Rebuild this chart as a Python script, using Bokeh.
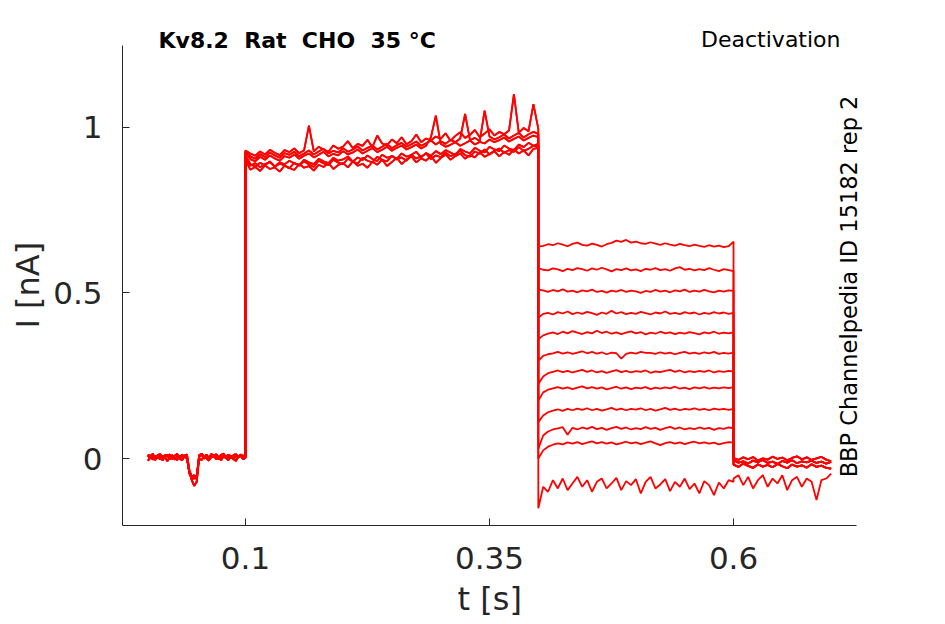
import numpy as np
from bokeh.plotting import figure
from bokeh.models import Label, FixedTicker, Range1d, Title
from bokeh.embed import file_html
from bokeh.resources import INLINE

# ---------------- data ----------------
# time segments [s]
seg_base = (0.0, 0.1)
seg_act = (0.1, 0.4)
seg_tail = (0.4, 0.6)
seg_post = (0.6, 0.7)

# baseline (0 - 0.1 s), three sweep variants [nA]
base_1 = [0.004,0.010,-0.003,0.008,0.001,0.011,-0.005,0.006,0.012,-0.002,0.007,0.003,-0.004,0.009,0.002,0.010,0.004,
          -0.045,-0.058,-0.060,-0.052,0.006,
          0.012,0.000,0.008,-0.003,0.009,0.004,0.011,-0.002,0.007,0.010,0.001,0.006,0.009,-0.003,0.008,0.005,0.011,0.002,0.006]
base_2 = [-0.006,0.002,0.009,-0.004,0.006,-0.002,0.008,0.003,-0.007,0.005,0.010,-0.003,0.006,0.001,-0.005,0.007,0.000,
          -0.040,-0.065,-0.082,-0.070,0.002,
          -0.004,0.007,0.001,-0.006,0.005,0.009,-0.002,0.004,-0.005,0.008,0.002,-0.004,0.006,0.001,-0.007,0.004,0.009,-0.002,0.003]
base_3 = [0.012,0.005,0.015,0.000,0.010,0.014,0.003,0.011,0.006,0.013,-0.001,0.009,0.014,0.004,0.011,0.007,0.013,
          -0.035,-0.055,-0.050,-0.062,0.010,
          0.015,0.006,0.012,0.002,0.014,0.008,0.013,0.004,0.011,0.015,0.005,0.012,0.003,0.010,0.014,0.006,0.012,0.008,0.010]

# activation step (0.1 - 0.4 s), six sweep variants [nA]
act_1 = [0.900,0.872,0.880,0.868,0.885,0.874,0.879,0.866,0.884,0.877,
         0.871,0.889,0.878,0.883,0.869,0.887,0.880,0.893,0.874,0.886,
         0.892,0.879,0.897,0.884,0.890,0.878,0.896,0.887,0.902,0.883,
         0.895,0.908,0.889,0.903,0.912,0.894,0.906,0.899,0.914,0.893,
         0.907,0.918,0.902,0.913,0.921,0.905,0.916,0.909,0.925,0.911,
         0.919,0.928,0.912,0.926,0.917,0.933,0.921,0.930,0.915,0.935,
         0.938]
act_2 = [0.915,0.889,0.881,0.893,0.885,0.897,0.882,0.894,0.888,0.899,
         0.891,0.886,0.902,0.894,0.889,0.905,0.897,0.892,0.908,0.899,
         0.903,0.912,0.896,0.909,0.901,0.915,0.904,0.898,0.917,0.908,
         0.913,0.905,0.921,0.911,0.917,0.926,0.909,0.922,0.914,0.928,
         0.919,0.931,0.924,0.916,0.934,0.927,0.921,0.938,0.929,0.924,
         0.941,0.933,0.928,0.945,0.936,0.931,0.948,0.940,0.953,0.944,
         0.950]
act_3 = [0.925,0.904,0.897,0.911,0.902,0.915,0.906,0.899,0.913,0.908,
         0.918,0.905,0.914,0.921,0.909,0.917,0.926,0.912,0.920,0.915,
         0.928,0.918,0.924,0.933,0.921,0.929,0.937,0.925,0.932,0.941,
         0.929,0.938,0.945,0.933,0.940,0.948,0.936,0.944,0.970,1.035,
         0.950,0.941,0.947,0.955,0.944,0.952,0.960,0.948,0.956,0.951,
         0.963,0.955,0.961,0.969,0.957,0.965,0.972,0.960,0.968,0.975,
         0.970]
act_4 = [0.930,0.921,0.914,0.927,0.918,0.932,0.923,0.916,0.931,0.925,
         0.936,0.922,0.930,1.005,0.927,0.941,0.933,0.926,0.945,0.935,
         0.942,0.958,0.937,0.950,0.944,0.962,0.940,0.975,0.951,0.946,
         0.963,0.952,0.970,0.949,0.958,0.978,0.955,0.966,0.960,0.972,
         0.965,0.982,0.959,0.974,0.985,0.968,0.977,0.992,0.970,0.981,
         0.994,0.975,0.986,0.979,0.990,1.100,0.983,0.998,0.988,1.070,
         0.995]
act_5 = [0.908,0.884,0.892,0.879,0.889,0.895,0.881,0.890,0.885,0.876,
         0.893,0.884,0.897,0.888,0.880,0.899,0.891,0.886,0.902,0.893,
         0.889,0.905,0.896,0.891,0.908,0.899,0.894,0.911,0.902,0.897,
         0.914,0.903,0.909,0.899,0.917,0.906,0.912,0.921,0.904,0.915,
         0.910,0.924,0.913,0.919,0.929,0.916,0.911,0.927,0.920,0.933,
         0.918,0.929,0.936,0.923,0.931,0.926,0.940,0.929,0.935,0.944,
         0.942]
act_6 = [0.928,0.912,0.905,0.919,0.910,0.924,0.915,0.908,0.922,0.917,
         0.926,0.913,0.921,0.930,0.918,0.927,0.935,0.921,0.929,0.924,
         0.937,0.926,0.933,0.942,0.930,0.938,0.945,0.933,0.941,0.950,
         0.937,0.946,0.953,0.941,0.949,0.957,0.944,0.952,0.960,0.948,
         0.958,0.950,0.962,0.955,0.966,1.040,0.961,0.968,0.958,1.050,
         0.972,0.963,0.970,0.978,0.966,0.975,0.983,0.969,0.979,0.986,
         0.980]

# tail currents (0.4 - 0.6 s), one per sweep [nA]
tail_01 = [0.640,0.642,0.647,0.644,0.650,0.646,0.641,0.648,0.652,0.645,0.643,0.649,0.645,0.640,0.647,0.651,0.658,0.654,0.660,0.652,
           0.655,0.650,0.648,0.653,0.649,0.645,0.650,0.646,0.643,0.648,0.644,0.641,0.646,0.642,0.639,0.644,0.640,0.643,0.638,0.641,0.655]
tail_02 = [0.575,0.570,0.568,0.574,0.571,0.566,0.573,0.569,0.575,0.572,0.567,0.574,0.570,0.576,0.571,0.565,0.572,0.569,0.574,0.568,
           0.571,0.566,0.573,0.570,0.575,0.569,0.572,0.567,0.574,0.578,0.570,0.573,0.568,0.572,0.569,0.575,0.570,0.566,0.572,0.569,0.566]
tail_03 = [0.510,0.508,0.503,0.509,0.505,0.511,0.504,0.507,0.502,0.508,0.505,0.510,0.503,0.506,0.501,0.507,0.504,0.509,0.503,0.507,
           0.505,0.500,0.506,0.503,0.509,0.504,0.507,0.502,0.508,0.505,0.510,0.503,0.507,0.504,0.509,0.505,0.502,0.507,0.504,0.508,0.506]
tail_04 = [0.425,0.437,0.440,0.435,0.442,0.438,0.444,0.436,0.441,0.437,0.443,0.439,0.434,0.441,0.437,0.446,0.438,0.442,0.436,0.440,
           0.437,0.443,0.439,0.435,0.441,0.438,0.444,0.437,0.440,0.436,0.442,0.438,0.441,0.435,0.440,0.437,0.442,0.438,0.441,0.437,0.440]
tail_05 = [0.360,0.372,0.377,0.381,0.376,0.383,0.378,0.385,0.380,0.376,0.382,0.378,0.386,0.379,0.383,0.377,0.381,0.376,0.380,0.384,
           0.378,0.382,0.375,0.380,0.377,0.383,0.378,0.381,0.376,0.380,0.377,0.382,0.379,0.375,0.381,0.378,0.383,0.377,0.380,0.378,0.381]
tail_06 = [0.295,0.310,0.315,0.318,0.322,0.317,0.321,0.316,0.320,0.324,0.318,0.322,0.317,0.321,0.315,0.320,0.318,0.302,0.316,0.320,
           0.317,0.322,0.319,0.319,0.316,0.321,0.317,0.320,0.315,0.319,0.322,0.317,0.320,0.316,0.321,0.318,0.322,0.316,0.319,0.317,0.320]
tail_07 = [0.225,0.248,0.258,0.262,0.266,0.261,0.265,0.260,0.264,0.268,0.262,0.266,0.260,0.264,0.259,0.263,0.267,0.261,0.265,0.260,
           0.264,0.262,0.266,0.259,0.263,0.261,0.265,0.268,0.262,0.266,0.260,0.264,0.261,0.265,0.262,0.266,0.260,0.264,0.262,0.265,0.263]
tail_08 = [0.175,0.200,0.208,0.212,0.216,0.211,0.215,0.210,0.214,0.218,0.212,0.216,0.211,0.215,0.209,0.213,0.217,0.211,0.215,0.210,
           0.214,0.212,0.216,0.210,0.214,0.211,0.215,0.212,0.217,0.211,0.214,0.210,0.215,0.212,0.216,0.211,0.214,0.212,0.215,0.213,0.216]
tail_09 = [0.110,0.130,0.140,0.145,0.149,0.144,0.150,0.146,0.151,0.147,0.152,0.146,0.150,0.145,0.149,0.153,0.147,0.151,0.146,0.150,
           0.148,0.152,0.146,0.150,0.145,0.149,0.153,0.147,0.151,0.146,0.150,0.148,0.152,0.147,0.150,0.146,0.151,0.148,0.150,0.147,0.150]
tail_10 = [0.030,0.070,0.082,0.088,0.091,0.095,0.072,0.093,0.088,0.094,0.090,0.096,0.089,0.093,0.087,0.092,0.096,0.090,0.094,0.088,
           0.092,0.089,0.095,0.090,0.093,0.087,0.092,0.096,0.090,0.094,0.088,0.092,0.089,0.094,0.090,0.093,0.087,0.092,0.090,0.094,0.092]
tail_11 = [0.000,0.025,0.036,0.042,0.046,0.043,0.049,0.045,0.050,0.044,0.048,0.052,0.046,0.050,0.045,0.049,0.043,0.047,0.051,0.046,
           0.049,0.044,0.048,0.052,0.046,0.041,0.047,0.050,0.045,0.049,0.044,0.048,0.051,0.046,0.049,0.045,0.048,0.043,0.047,0.050,0.048]
tail_12 = [-0.150,-0.085,-0.100,-0.065,-0.090,-0.060,-0.095,-0.075,-0.055,-0.085,-0.065,-0.100,-0.070,-0.060,-0.090,-0.075,-0.058,-0.095,-0.068,-0.080,
           -0.062,-0.105,-0.070,-0.055,-0.090,-0.078,-0.062,-0.098,-0.070,-0.085,-0.060,-0.092,-0.075,-0.105,-0.068,-0.080,-0.110,-0.072,-0.090,-0.065,-0.070]

# after the tail pulse (0.6 - 0.7 s) [nA]
post_1 = [-0.005,-0.012,-0.008,-0.015,-0.006,-0.011,-0.004,-0.013,-0.009,-0.016,-0.007,-0.012,-0.005,-0.014,-0.008,-0.011,-0.006,-0.013,-0.009,-0.015,-0.010]
post_2 = [-0.018,-0.025,-0.015,-0.022,-0.028,-0.017,-0.024,-0.019,-0.026,-0.016,-0.023,-0.029,-0.018,-0.024,-0.020,-0.027,-0.017,-0.025,-0.021,-0.028,-0.030]
post_3 = [0.002,-0.004,0.004,-0.002,0.005,-0.006,0.001,-0.003,0.006,-0.001,0.003,-0.005,0.002,0.007,-0.002,0.004,-0.004,0.001,0.005,-0.003,-0.008]
post_low = [-0.060,-0.050,-0.080,-0.055,-0.090,-0.065,-0.050,-0.085,-0.060,-0.075,-0.050,-0.095,-0.065,-0.055,-0.085,-0.060,-0.070,-0.125,-0.065,-0.060,-0.045]

x_ticks = [0.1, 0.35, 0.6]
x_tick_labels = ["0.1", "0.35", "0.6"]
y_ticks = [0, 0.5, 1]
y_tick_labels = ["0", "0.5", "1"]
x_axis_extent = (-0.026, 0.726)
y_axis_extent = (-0.2018, 1.247)

x_label = "t [s]"
y_label = "I [nA]"
# doubled spaces kept visible with a no-break space
title_left = "Kv8.2\u00a0 Rat\u00a0 CHO\u00a0 35 °C"
title_right = "Deactivation"
side_text = "BBP Channelpedia ID 15182 rep 2"

# ---------------- figure ----------------
base_sets = [base_1, base_2, base_3]
act_sets = [act_1, act_2, act_3, act_4, act_5, act_6]
tails = [tail_01, tail_02, tail_03, tail_04, tail_05, tail_06,
         tail_07, tail_08, tail_09, tail_10, tail_11, tail_12]
post_sets = [post_1, post_2, post_3]

# the frame extends above / right of the drawn axes so that the
# annotation texts live inside it (axis lines are bounded)
p = figure(width=945, height=624,
           x_range=Range1d(-0.026, 0.8018), y_range=Range1d(-0.2018, 1.3524),
           output_backend="svg", toolbar_location=None,
           min_border_left=122, min_border_right=15,
           min_border_top=10, min_border_bottom=98)
p.outline_line_color = None
p.xgrid.visible = False
p.ygrid.visible = False
p.background_fill_color = "white"
p.border_fill_color = "white"

def seg_times(seg, vals):
    return np.linspace(seg[0], seg[1], len(vals))

for i, tl in enumerate(tails):
    b = base_sets[i % 3]
    a = act_sets[i % 6]
    po = post_low if i == len(tails) - 1 else post_sets[i % 3]
    t = np.concatenate([seg_times(seg_base, b), seg_times(seg_act, a),
                        seg_times(seg_tail, tl), seg_times(seg_post, po)])
    y = np.concatenate([b, a, tl, po])
    p.line(t, y, line_color="#ff0000", line_width=1.8)

axcol = "#262626"
for ax in (p.xaxis, p.yaxis):
    ax.axis_line_color = axcol
    ax.major_tick_line_color = axcol
    ax.major_tick_in = 7
    ax.major_tick_out = 0
    ax.minor_tick_line_color = None
    ax.major_label_text_font = "DejaVu Sans"
    ax.major_label_text_font_size = "31px"
    ax.major_label_text_color = axcol

p.xaxis.bounds = x_axis_extent
p.yaxis.bounds = y_axis_extent
p.xaxis.ticker = FixedTicker(ticks=x_ticks)
p.xaxis.major_label_overrides = dict(zip(x_ticks, x_tick_labels))
p.yaxis.ticker = FixedTicker(ticks=y_ticks)
p.yaxis.major_label_overrides = dict(zip(y_ticks, y_tick_labels))
p.xaxis.major_label_standoff = 21
p.yaxis.major_label_standoff = 20

# axis titles, positioned so they sit centred under / beside the bounded axis lines
p.add_layout(Title(text=x_label, align="left", offset=335, standoff=13,
                   text_font="DejaVu Sans", text_font_size="32px",
                   text_font_style="normal", text_color=axcol), "below")
p.add_layout(Title(text=y_label, align="left", offset=197, standoff=7,
                   text_font="DejaVu Sans", text_font_size="32px",
                   text_font_style="normal", text_color=axcol), "left")

p.add_layout(Label(x=0.0109, y=1.262, text=title_left, text_font="DejaVu Sans",
                   text_font_size="22px", text_font_style="bold", text_color="black",
                   text_align="left", text_baseline="middle"))
p.add_layout(Label(x=0.7096, y=1.265, text=title_right, text_font="DejaVu Sans",
                   text_font_size="22px", text_color="black",
                   text_align="right", text_baseline="middle"))
p.add_layout(Label(x=0.7184, y=0.5196, text=side_text, text_font="DejaVu Sans",
                   text_font_size="22.5px", text_color="black", angle=np.pi / 2,
                   text_align="center", text_baseline="middle"))

open("out.html", "w").write(file_html(p, INLINE))
